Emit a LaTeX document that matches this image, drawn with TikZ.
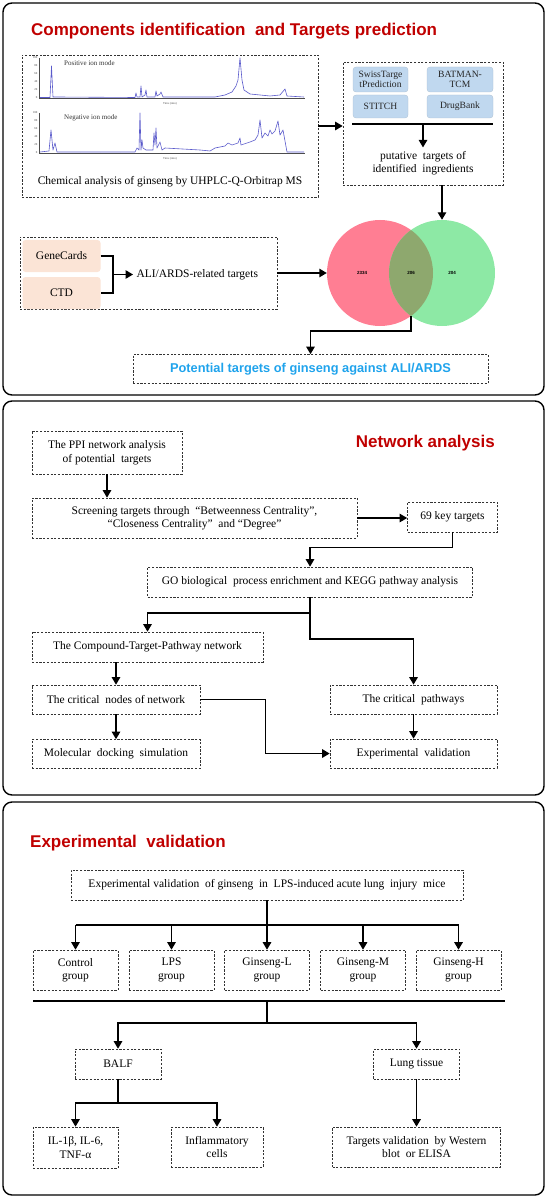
\documentclass[tikz,border=0pt]{standalone}
\usepackage{fontspec}
\setmainfont{Liberation Serif}
\newfontfamily\headfont{Liberation Sans}
\usepackage{xcolor}
\usetikzlibrary{arrows.meta}

\definecolor{headred}{HTML}{C00000}
\definecolor{potblue}{HTML}{1FA3EC}
\definecolor{dbblue}{HTML}{C0D8EF}
\definecolor{peach}{HTML}{FBE4D6}
\definecolor{vred}{HTML}{FF7E93}
\definecolor{vgreen}{HTML}{8DE9A5}
\definecolor{vmix}{HTML}{8EA86E}
\definecolor{chromblue}{HTML}{5A5ACB}

\newcommand\bodysize{\fontsize{11.5}{13.5}\selectfont}

\tikzset{
	panel/.style={line width=1.4pt, rounded corners=9pt},
	box/.style={draw=black!80, line width=0.7pt, dash pattern=on 2.2pt off 1.5pt,
		align=center, inner sep=0pt, font=\bodysize},
	wd/.style={minimum width=#1},
	ht/.style={minimum height=#1},
	db/.style={fill=dbblue, draw=dbblue!85!black!90, line width=0.3pt, rounded corners=3pt,
		align=center, inner sep=0pt, text=black!85, font=\fontsize{9.6}{10.5}\selectfont},
	src/.style={fill=peach, rounded corners=3pt, inner sep=0pt, font=\bodysize},
	txt/.style={align=center, font=\bodysize},
	arr/.style={line width=1.4pt, -{Triangle[length=7.5pt,width=8.5pt]}},
	link/.style={line width=1.4pt},
	head/.style={text=headred, inner sep=0pt, font=\headfont\bfseries\fontsize{17}{20}\selectfont},
	chrom/.style={chromblue, line width=0.6pt, line join=round},
	axis/.style={black!70, line width=0.3pt},
	tiny/.style={inner sep=0pt, text=black!80, font=\fontsize{7}{8}\selectfont},
	tick/.style={inner sep=0pt, text=black!70, font=\fontsize{3}{3}\selectfont},
	num/.style={inner sep=0pt, font=\headfont\bfseries\fontsize{4.5}{5}\selectfont},
}

\begin{document}
\begin{tikzpicture}[x=1pt, y=-1pt]
	%\draw[help lines] (0,0) grid (547,1198);
	\useasboundingbox (0,0) rectangle (547,1198);
	
	% components identification and targets prediction
	\draw[panel] (3,3) rectangle (544,395);
	\node[head, anchor=west] (t1) at (31,31) {Components identification\ \ and Targets prediction};
	
	\node[box, wd=296pt, ht=142pt] (ms) at (170,126) {};
	\node[txt] (mstxt) at (170,182) {Chemical analysis of ginseng by UHPLC-Q-Orbitrap MS};
	
	\draw[axis] (39,58) -- (39,98) -- (304,98);
	\draw[axis] (39,113) -- (39,153) -- (304,153);
	\foreach \t in {0,...,13}{
		\draw[axis] ({39+\t*20.4},98) -- ++(0,1.5);
		\draw[axis] ({39+\t*20.4},153) -- ++(0,1.5);
	}
	\foreach \v [count=\i from 0] in {0,20,40,60,80,100}{
		\node[tick, anchor=east] at (37.5,{98-\i*8}) {\v};
		\node[tick, anchor=east] at (37.5,{153-\i*8}) {\v};
	}
	\node[tiny, anchor=west] (pos) at (64,63) {Positive ion mode};
	\node[tiny, anchor=west] (neg) at (64,118) {Negative ion mode};
	\node[tick] (tpos) at (170,104) {Time (min)};
	\node[tick] (tneg) at (170,159) {Time (min)};
	\draw[chrom] plot coordinates {(40,97.5) (50,97.5) (51.5,66) (53,97) (57,97) (135,97.5) (136,93)
		(137,97) (140,97) (141,86) (142,97) (145,95) (146,90) (147,97) (155,97) (156,91) (157,96)
		(160,94) (161,92) (163,97) (215,97) (225,95) (232,92) (236,86) (238,80) (240,58) (242,80)
		(244,90) (250,94) (260,95) (270,96) (280,95) (285,89) (287,96) (304,97)};
	\draw[chrom] plot coordinates {(40,152) (49,151) (51,130) (53,150) (55,143) (57,152) (135,152)
		(137,148) (139,150) (140,113) (141,150) (142,140) (143,148) (146,150) (153,150) (154,133)
		(155,145) (156,128) (157,148) (160,142) (162,150) (165,148) (200,150) (210,151) (215,148)
		(225,146) (228,143) (232,145) (238,143) (240,138) (241,145) (250,142) (255,140) (258,135)
		(260,120) (262,138) (265,133) (268,136) (270,130) (272,134) (275,131) (278,121) (280,135)
		(283,130) (287,152) (304,152)};
	
	\node[box, wd=160pt, ht=123pt] (put) at (423,123.5) {};
	\node[db, wd=55pt, ht=25pt] (swiss) at (380.5,79.5) {SwissTarge\\tPrediction};
	\node[db, wd=66pt, ht=25pt] (batman) at (460,79.5) {BATMAN-\\TCM};
	\node[db, wd=55pt, ht=23pt] (stitch) at (380.5,106.5) {STITCH};
	\node[db, wd=66pt, ht=23pt] (drug) at (460,106.5) {DrugBank};
	\coordinate (barL) at (352,124);
	\coordinate (barR) at (493,124);
	\coordinate (barM) at (423,124);
	\node[txt] (puttxt) at (423,163) {putative\ \ targets of\\identified\ \ ingredients};
	\draw[link] (barL) -- (barR);
	\draw[arr] (barM) -- (puttxt.north);
	\draw[arr] (ms.east) -- (ms.east -| put.west);
	
	\fill[vred] (380,273) circle[radius=53pt];
	\fill[vgreen] (442,273) circle[radius=53pt];
	\begin{scope}
		\clip (380,273) circle[radius=53pt];
		\fill[vmix] (442,273) circle[radius=53pt];
	\end{scope}
	\node[circle, minimum size=106pt, inner sep=0pt] (red) at (380,273) {};
	\node[circle, minimum size=106pt, inner sep=0pt] (green) at (442,273) {};
	\node[num] (n1) at (362,273) {2334};
	\node[num] (n2) at (411,273) {206};
	\node[num] (n3) at (452,273) {204};
	\coordinate (lens) at (411,316);
	\coordinate (lensturn) at (411,331);
	\draw[arr] (put.south -| green.north) -- (green.north);
	
	\node[box, wd=257pt, ht=72pt] (gbox) at (148.5,273) {};
	\node[src, wd=78pt, ht=32pt] (gc) at (61.5,256) {GeneCards};
	\node[src, wd=78pt, ht=32pt] (ctd) at (61.5,293) {CTD};
	\coordinate (join) at (113,274.5);
	\node[txt, anchor=west] (ali) at (133,274.5) {ALI/ARDS-related targets};
	\draw[link] (gc.east) -| (join) |- (ctd.east);
	\draw[arr] (join) -- (ali.west);
	\draw[arr] (gbox.east) -- (red.west);
	
	\node[box, wd=355pt, ht=29pt, text=potblue, font=\headfont\bfseries\fontsize{12.8}{15}\selectfont] (pot) at (310.5,369) {Potential targets of ginseng against ALI/ARDS};
	\draw[arr] (lens) -- (lensturn) -| (pot.north);
	
	% network analysis
	\draw[panel] (3,401) rectangle (544,795);
	\node[head, anchor=east] (t2) at (495,443) {Network analysis};
	
	\node[box, wd=150pt, ht=43pt] (ppi) at (107,452.5) {The PPI network analysis\\of potential\ \ targets};
	\node[box, wd=325pt, ht=40pt] (screen) at (194.5,518) {Screening targets through\ \ “Betweenness Centrality”,\\“Closeness Centrality”\ \ and “Degree”};
	\node[box, wd=90pt, ht=30pt] (key) at (452.5,517) {69 key targets};
	\node[box, wd=325pt, ht=30pt] (go) at (310,582) {GO biological\ \ process enrichment and KEGG pathway analysis};
	\node[box, wd=231pt, ht=30pt] (cpd) at (147.5,647) {The Compound-Target-Pathway network};
	\node[box, wd=168pt, ht=29pt] (crit) at (116,699.5) {The critical\ \ nodes of network};
	\node[box, wd=167pt, ht=29pt] (path) at (413.5,699.5) {The critical\ \ pathways};
	\node[box, wd=168pt, ht=29pt] (dock) at (116,754) {Molecular\ \ docking\ \ simulation};
	\node[box, wd=167pt, ht=29pt] (expv) at (413.5,753.5) {Experimental\ \ validation};
	\coordinate (gosplit) at (310,613);
	
	\draw[arr] (ppi.south) -- (ppi.south |- screen.north);
	\draw[arr] (screen.east) -- (screen.east -| key.west);
	\draw[arr] (key.south) -- ++(0,15) -| (go.north);
	\draw[link] (go.south) -- (gosplit);
	\draw[arr] (gosplit) -| (cpd.north);
	\draw[arr] (gosplit) -- ++(0,26) -| (path.north);
	\draw[arr] (cpd.south -| crit.north) -- (crit.north);
	\draw[arr] (crit.south) -- (dock.north);
	\draw[arr] (path.south) -- (expv.north);
	\draw[arr] (crit.east) -- ++(65,0) |- (expv.west);
	
	% experimental validation
	\draw[panel] (3,802) rectangle (544,1195);
	\node[head, anchor=west] (t3) at (30,843) {Experimental\ \ validation};
	
	\node[box, wd=392pt, ht=30pt] (exp) at (267,885) {Experimental validation\ \ of ginseng\ \ in\ \ LPS-induced acute lung\ \ injury\ \ mice};
	\foreach \n/\x/\t in {g1/75.5/Control, g2/171.5/LPS, g3/267/Ginseng-L, g4/363/Ginseng-M, g5/458.5/Ginseng-H}
		\node[box, wd=85pt, ht=40pt] (\n) at (\x,970) {\t\\group};
	\coordinate (bus) at (267,925);
	\draw[link] (bus -| g1.north) -- (bus -| g5.north);
	\draw[arr] (exp.south) -- (g3.north);
	\foreach \n in {g1,g2,g4,g5}
		\draw[arr] (bus -| \n.north) -- (\n.north);
	
	\coordinate (sepL) at (33,1001);
	\coordinate (sepR) at (505,1001);
	\coordinate (sepM) at (267,1001);
	\coordinate (fork) at (267,1023);
	\draw[line width=1.5pt] (sepL) -- (sepR);
	
	\node[box, wd=86pt, ht=30pt] (balf) at (118,1064) {BALF};
	\node[box, wd=86pt, ht=30pt] (lung) at (416.5,1064) {Lung tissue};
	\node[box, wd=85pt, ht=41pt] (il) at (75.5,1147.5) {IL-1β, IL-6,\\TNF-α};
	\node[box, wd=92pt, ht=40pt] (infl) at (217,1147) {Inflammatory\\cells};
	\node[box, wd=168pt, ht=40pt] (tv) at (416.5,1147) {Targets validation\ \ by Western\\blot\ \ or ELISA};
	\coordinate (fork2) at (118,1103);
	
	\draw[link] (sepM) -- (fork);
	\draw[arr] (fork) -| (balf.north);
	\draw[arr] (fork) -| (lung.north);
	\draw[link] (balf.south) -- (fork2);
	\draw[arr] (fork2) -| (il.north);
	\draw[arr] (fork2) -| (infl.north);
	\draw[arr] (lung.south) -- (tv.north);
	
\end{tikzpicture}
\end{document}
